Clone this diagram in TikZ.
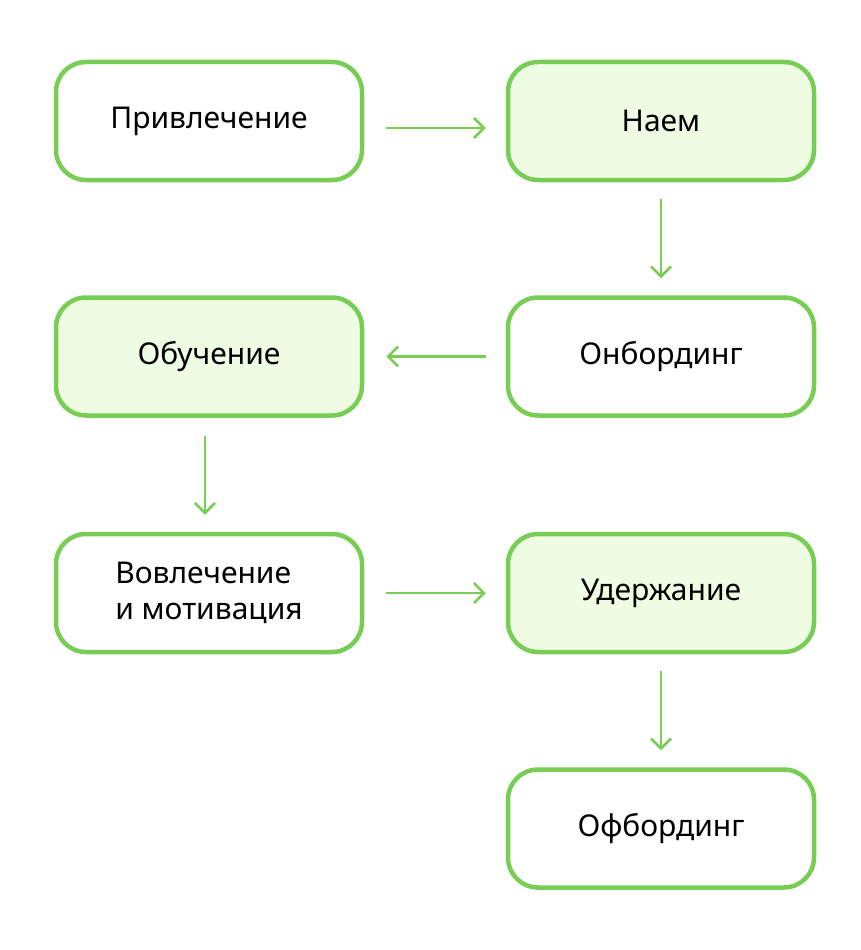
\documentclass[tikz,border=0pt]{standalone}
\usepackage{fontspec}
\setmainfont{Noto Sans}
\usetikzlibrary{arrows.meta}
\definecolor{gr}{HTML}{78CD55}
\definecolor{lg}{HTML}{EEFCE4}
\begin{document}
\begin{tikzpicture}[x=1pt,y=-1pt,
 box/.style={draw=gr,line width=4.5pt,rounded corners=30pt,minimum width=306pt,minimum height=118pt,fill=white,font=\fontsize{30}{36}\selectfont,text=black},
 hl/.style={box,fill=lg},
 arr/.style={draw=gr,line width=2.5pt,-{Straight Barb[length=10pt,width=20pt,line width=2.5pt]}}]
\useasboundingbox (0,0) rectangle (860,950);
\node[box] (a) at (209,121) {Привлечение};
\node[hl] (b) at (661,121) {Наем};
\node[box] (c) at (661,356.5) {Онбординг};
\node[hl] (d) at (209,356.5) {Обучение};
\node[box,align=left] (e) at (209,593) {Вовлечение\\и мотивация};
\node[hl] (f) at (661,593) {Удержание};
\node[box] (g) at (661,828.5) {Офбординг};
\draw[arr,shorten <=22pt,shorten >=20pt] ([yshift=-7pt]a.east) -- ([yshift=-7pt]b.west);
\draw[arr,shorten <=17pt,shorten >=17pt] (b.south) -- (c.north);
\draw[arr,shorten <=20pt,shorten >=22pt] (c.west) -- (d.east);
\draw[arr,shorten <=18pt,shorten >=17pt] ([xshift=-4pt]d.south) -- ([xshift=-4pt]e.north);
\draw[arr,shorten <=22pt,shorten >=20pt] (e.east) -- (f.west);
\draw[arr,shorten <=17pt,shorten >=17pt] (f.south) -- (g.north);
\end{tikzpicture}
\end{document}
